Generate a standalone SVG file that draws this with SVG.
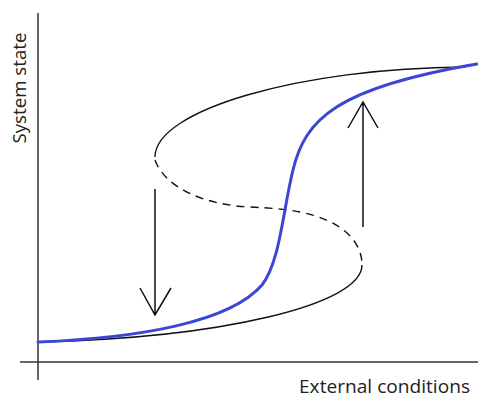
<svg xmlns="http://www.w3.org/2000/svg" width="478" height="398" viewBox="0 0 478 398">
<style>
.axis{stroke:#333;stroke-width:1.5;fill:none}
.curve{stroke:#111;stroke-width:1.4;fill:none}
.dash{stroke:#111;stroke-width:1.4;fill:none;stroke-dasharray:8 6}
.blue{stroke:#3c46d4;stroke-width:3;fill:none;stroke-linecap:round}
.arrow{stroke:#111;stroke-width:1.5;fill:none}
.lbl{font-family:"Open Sans","DejaVu Sans",sans-serif;font-size:18px;fill:#222}
</style>
<rect width="478" height="398" fill="#fff"/>
<g id="axes">
<line class="axis" x1="38" y1="13" x2="38" y2="380"/>
<line class="axis" x1="20" y1="362" x2="478" y2="362"/>
<text class="lbl" transform="translate(26,88) rotate(-90)" text-anchor="middle" textLength="111" lengthAdjust="spacingAndGlyphs">System state</text>
<text class="lbl" x="470" y="393" text-anchor="end" textLength="171" lengthAdjust="spacingAndGlyphs">External conditions</text>
</g>
<g id="fold-curve">
<path class="curve" d="M155,157 C155,110 300,68 465,67"/>
<path class="dash" d="M155,160 C165,188 205,205 250,207 C270,208 285,209 300,212 C340,220 362,240 362,265"/>
<path class="curve" d="M362,265 C362,305 220,338 38,342"/>
</g>
<g id="smooth-curve">
<path class="blue" d="M38,342 C140,338 230,322 262,285 C280,262 283,210 293,170 C305,120 335,88 477,64"/>
</g>
<g id="connectors">
<path class="arrow" d="M155,189 V315 M140,288 L155,315 L171,288"/>
<path class="arrow" d="M363,227 V102 M348,128 L363,102 L378,128"/>
</g>
</svg>
